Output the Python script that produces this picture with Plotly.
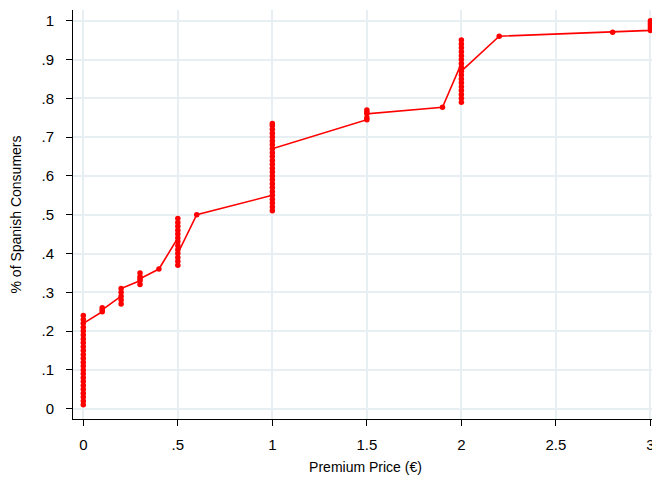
import plotly.graph_objects as go

# Observations in data order (premium price, cumulative share of consumers)
price_0 = [0.0] * 24
share_0 = [0.01, 0.02, 0.03, 0.04, 0.05, 0.06, 0.07, 0.08, 0.09, 0.10, 0.11, 0.12,
           0.13, 0.14, 0.15, 0.16, 0.17, 0.18, 0.19, 0.20, 0.21, 0.23, 0.24, 0.22]
price_01 = [0.1] * 3
share_01 = [0.25, 0.26, 0.255]
price_02 = [0.2] * 5
share_02 = [0.29, 0.28, 0.27, 0.30, 0.31]
price_03 = [0.3] * 5
share_03 = [0.33, 0.32, 0.34, 0.35, 0.335]
price_04 = [0.4]
share_04 = [0.36]
price_05 = [0.5] * 13
share_05 = [0.44, 0.45, 0.46, 0.47, 0.48, 0.49, 0.43, 0.42, 0.41, 0.39, 0.38, 0.37, 0.40]
price_06 = [0.6]
share_06 = [0.50]
price_10 = [1.0] * 24
share_10 = [0.55, 0.54, 0.53, 0.52, 0.51, 0.56, 0.57, 0.58, 0.59, 0.60, 0.61, 0.62,
            0.63, 0.64, 0.65, 0.66, 0.68, 0.69, 0.70, 0.71, 0.72, 0.73, 0.735, 0.67]
price_15 = [1.5] * 5
share_15 = [0.745, 0.75, 0.77, 0.765, 0.76]
price_19 = [1.9]
share_19 = [0.777]
price_20 = [2.0] * 17
share_20 = [0.89, 0.90, 0.91, 0.92, 0.93, 0.94, 0.95, 0.88, 0.86, 0.85, 0.84, 0.83,
            0.82, 0.81, 0.80, 0.79, 0.87]
price_22 = [2.2]
share_22 = [0.96]
price_28 = [2.8]
share_28 = [0.97]
price_30 = [3.0] * 6
share_30 = [0.975, 0.98, 0.985, 0.99, 0.995, 1.0]

prices = (price_0 + price_01 + price_02 + price_03 + price_04 + price_05 + price_06 +
          price_10 + price_15 + price_19 + price_20 + price_22 + price_28 + price_30)
shares = (share_0 + share_01 + share_02 + share_03 + share_04 + share_05 + share_06 +
          share_10 + share_15 + share_19 + share_20 + share_22 + share_28 + share_30)

x_tickvals = [0, 0.5, 1, 1.5, 2, 2.5, 3]
x_ticktext = ["0", ".5", "1", "1.5", "2", "2.5", "3"]
y_tickvals = [0, 0.1, 0.2, 0.3, 0.4, 0.5, 0.6, 0.7, 0.8, 0.9, 1.0]
y_ticktext = ["0", ".1", ".2", ".3", ".4", ".5", ".6", ".7", ".8", ".9", "1"]

fig = go.Figure()
fig.add_trace(go.Scatter(
    x=prices, y=shares, mode="lines+markers",
    line=dict(color="#ff0000", width=1.6),
    marker=dict(color="#ff0000", size=5.5),
    showlegend=False, hoverinfo="x+y", cliponaxis=False,
))

# The page body adds an 8px offset, so the figure is 8px smaller and margins shifted.
font = "Liberation Sans, Arial, Helvetica, sans-serif"
fig.update_layout(
    width=652, height=474,
    margin=dict(l=65, r=2, t=2, b=63),
    paper_bgcolor="white", plot_bgcolor="white",
    font=dict(family=font, size=15, color="black"),
    xaxis=dict(
        range=[-0.0545, 3.04], tickvals=x_tickvals, ticktext=x_ticktext,
        showgrid=True, gridcolor="#e7eff2", gridwidth=1.5,
        showline=True, linecolor="black", linewidth=1,
        ticks="outside", ticklen=6, tickwidth=1, tickcolor="black",
        ticklabelstandoff=6, zeroline=False, automargin=False,
        title=dict(text="Premium Price (€)", font=dict(size=14), standoff=10),
    ),
    yaxis=dict(
        range=[-0.0265, 1.0276], tickvals=y_tickvals, ticktext=y_ticktext,
        showgrid=True, gridcolor="#e7eff2", gridwidth=1.5,
        showline=True, linecolor="black", linewidth=1,
        ticks="outside", ticklen=6, tickwidth=1, tickcolor="black",
        ticklabelstandoff=9, zeroline=False, automargin=False,
        title=dict(text="% of Spanish Consumers", font=dict(size=14), standoff=20),
    ),
)

fig.write_html("out.html")
